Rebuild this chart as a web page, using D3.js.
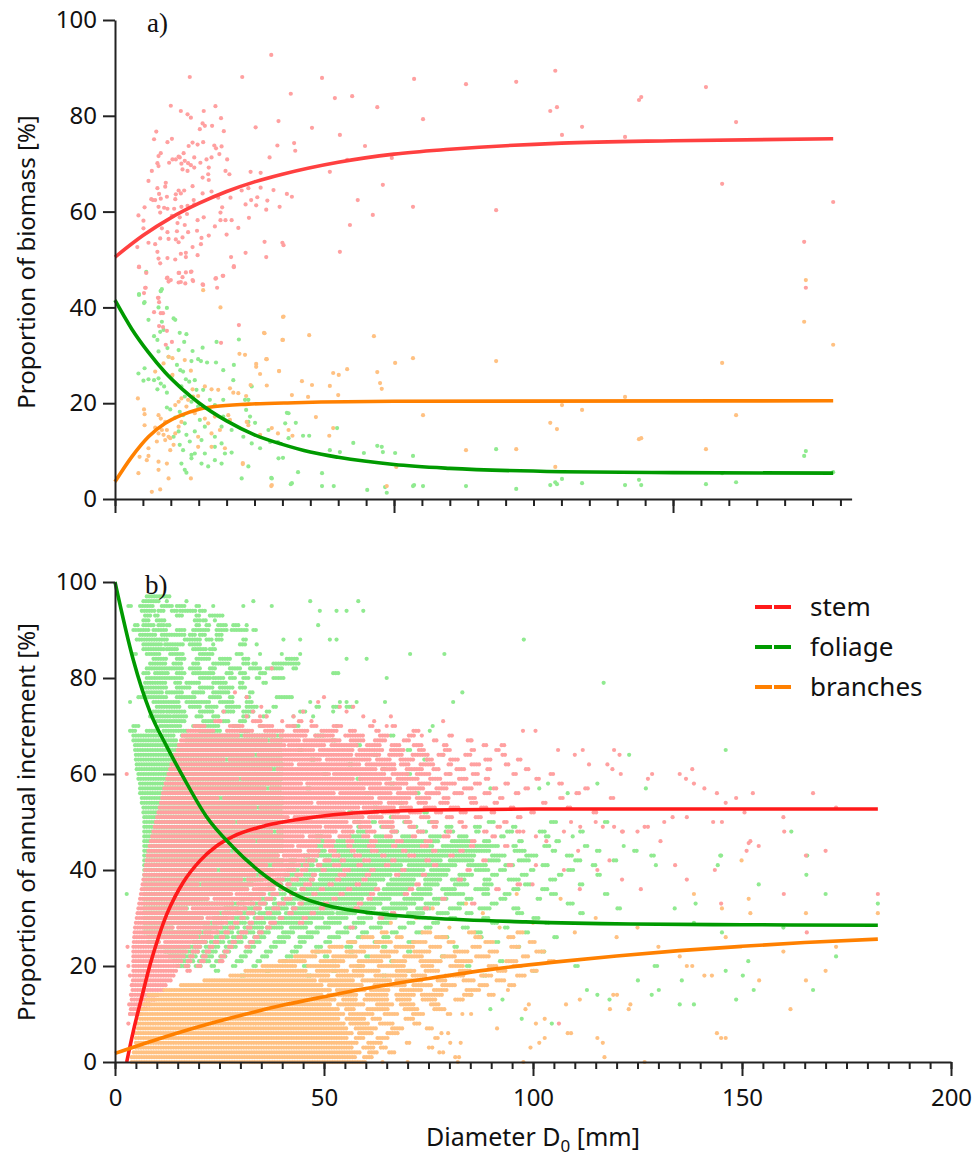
<!DOCTYPE html>
<html>
<head>
<meta charset="utf-8">
<script src="https://cdn.jsdelivr.net/npm/d3@7"></script>
<style>
  body { margin: 0; background: #fff; }
  text { font-family: "Noto Sans", sans-serif; fill: #111; }
  .axis path, .axis line { stroke: #222; stroke-width: 2; }
  .axis text { font-size: 24px; font-family: "Noto Sans", sans-serif; fill: #111; }
</style>
</head>
<body>
<svg id="chart" width="974" height="1163"></svg>
<script>
// ---------- panel a) proportion of biomass: fitted curves [D0 mm, %] ----------
var bioStemCurve = [[0,50.5],[5,55.0],[10,58.7],[15,61.7],[20,64.2],[25,66.2],[30,67.8],[40,70.3],[50,72.0],[60,73.0],[80,74.3],[100,74.8],[128.7,75.2]];
var bioFoliageCurve = [[0,41.5],[3,35.5],[6,30.6],[9,26.4],[12,23.0],[15,20.1],[20,16.3],[25,13.4],[30,11.4],[35,9.8],[40,8.7],[50,7.2],[60,6.4],[80,5.7],[100,5.5],[128.7,5.4]];
var bioBranchCurve = [[0,3.6],[3,8.8],[6,13.0],[9,15.8],[11.9,17.5],[14.9,18.7],[17.9,19.3],[23.9,19.8],[32.3,20.1],[50,20.4],[128.7,20.5]];

// panel a) observations [D0 mm, %]
var bioStemPts = [[10.0,82.1],[11.8,81.0],[13.0,80.3],[13.6,79.6],[15.9,81.0],[18.0,82.0],[19.0,79.5],[15.7,78.4],[16.1,77.9],[17.4,77.9],[15.2,77.2],[19.5,76.8],[7.4,76.7],[7.0,75.1],[9.4,74.5],[10.2,75.2],[25.2,77.6],[29.3,78.9],[29.1,73.8],[32.1,74.3],[32.3,72.7],[13.9,74.4],[14.8,74.0],[15.8,74.5],[17.8,73.8],[18.1,73.2],[19.1,73.6],[18.7,72.0],[13.2,73.7],[12.3,72.2],[11.4,71.5],[10.3,70.9],[9.7,70.2],[8.2,72.2],[7.8,71.6],[7.6,70.1],[7.8,69.5],[6.6,68.5],[10.9,70.9],[11.6,71.3],[11.9,70.0],[12.5,70.6],[13.1,70.1],[13.6,69.7],[14.2,71.3],[15.3,70.2],[16.4,70.9],[17.3,71.3],[20.1,70.9],[12.1,68.8],[13.0,68.5],[14.2,69.2],[16.8,69.2],[19.8,68.5],[20.5,67.8],[24.3,68.3],[26.1,68.1],[27.7,71.3],[16.7,67.8],[16.8,66.6],[15.7,67.1],[6.0,66.4],[9.1,66.0],[7.6,64.9],[7.9,63.7],[9.0,65.2],[9.3,63.1],[8.2,62.7],[6.5,62.6],[7.2,62.4],[10.9,63.6],[11.4,64.4],[11.8,63.8],[12.4,64.4],[13.9,65.3],[10.8,62.6],[14.1,62.4],[15.7,63.8],[17.3,64.2],[18.5,62.9],[20.7,62.9],[22.7,64.4],[23.9,64.9],[26.1,65.0],[28.4,64.5],[30.8,63.7],[31.7,63.1],[24.4,62.4],[25.5,63.0],[27.3,62.3],[23.4,61.5],[25.3,61.3],[27.1,60.4],[29.5,61.0],[7.8,61.0],[8.1,59.8],[8.8,60.8],[9.4,60.6],[10.6,60.6],[11.9,61.0],[13.0,61.2],[14.2,61.5],[5.3,60.9],[4.2,59.2],[5.1,58.1],[6.8,62.4],[10.2,59.1],[11.6,58.8],[12.9,59.5],[14.8,58.2],[15.9,58.8],[19.2,60.9],[18.9,59.8],[18.9,58.2],[19.8,58.2],[20.9,58.2],[24.0,58.7],[5.1,56.5],[6.0,53.5],[4.0,52.6],[7.2,53.2],[8.1,54.4],[8.4,56.5],[9.4,55.7],[9.6,54.3],[11.2,57.6],[11.1,55.9],[12.5,57.2],[10.9,54.2],[11.4,53.6],[12.1,54.6],[13.1,55.7],[14.7,56.0],[13.9,52.6],[15.5,54.5],[15.4,53.2],[16.8,55.0],[17.9,56.9],[20.0,55.2],[22.1,56.6],[26.8,53.7],[30.0,53.5],[30.2,53.0],[7.6,51.6],[7.8,50.2],[8.1,49.2],[9.4,50.3],[10.8,50.0],[11.8,51.2],[12.7,51.4],[12.7,50.5],[14.8,50.9],[20.8,50.5],[23.4,51.4],[27.1,50.5],[21.3,48.6],[4.3,48.5],[11.4,47.2],[12.7,47.3],[13.7,47.5],[12.1,46.3],[9.4,46.2],[9.6,45.4],[10.0,45.7],[11.4,45.2],[12.6,45.0],[13.9,45.7],[15.7,44.8],[18.0,46.0],[19.3,46.6],[5.5,44.1],[5.2,43.0],[7.8,42.0],
  [28.0,92.7],[13.4,88.1],[22.8,88.1],[37.1,87.9],[31.5,84.6],[53.6,87.7],[55.2,79.3],[62.9,86.6],[71.9,87.1],[78.9,89.4],[78.0,81.0],[79.2,81.8],[80.1,76.0],[83.7,77.7],[91.4,75.6],[93.9,83.3],[94.3,83.9],[105.9,86.0],[111.3,78.7],[108.8,65.8],[123.5,53.7],[123.8,44.1],[128.7,62.0],[53.4,61.0],[68.3,60.3],
  [39.4,83.7],[42.5,84.1],[47.0,81.8],[35.3,77.5],[40.3,76.0],[44.8,73.7],[49.6,71.2],[41.6,70.8],[48.0,65.6],[38.5,68.3],[43.5,62.4],[46.2,59.3],[40.3,51.6],[42.1,57.2],
  [7.7,42.0],[7.9,41.1],[7.0,39.0],[8.2,38.8],[8.6,38.8],[7.9,36.1],[8.6,35.9],[9.3,35.1],[10.2,32.8],[9.1,32.2],[19.0,32.6],[22.2,36.3],[4.3,48.4],[5.6,47.2],[5.4,44.1],[9.3,46.1],[11.5,47.2],[11.8,45.3],[13.6,47.4],[14.0,45.5],[15.8,44.7],[18.1,46.1],[19.4,46.6],[18.3,44.1],[21.3,48.4]];

var bioFoliagePts = [[4.3,42.6],[5.3,41.1],[8.2,43.4],[7.8,40.0],[9.3,39.9],[8.4,37.0],[6.0,37.4],[10.5,37.7],[10.8,37.4],[7.0,34.0],[8.1,34.9],[7.6,33.2],[8.7,35.3],[11.6,34.7],[12.8,34.4],[12.4,32.8],[9.4,31.5],[7.8,30.8],[9.6,29.7],[11.4,31.1],[13.9,30.9],[15.7,31.6],[14.9,29.2],[15.4,28.8],[13.7,28.8],[18.2,32.8],[22.2,33.3],[18.1,28.5],[19.4,26.9],[21.3,28.0],[16.5,28.5],[5.3,27.3],[4.2,26.2],[5.1,24.7],[6.0,25.0],[7.0,24.8],[7.8,25.2],[8.2,24.1],[7.6,22.9],[8.8,23.5],[9.3,22.2],[11.7,26.9],[12.2,26.6],[12.7,25.0],[11.1,28.0],[10.2,25.7],[11.9,23.5],[12.5,21.4],[13.3,24.5],[14.3,24.8],[14.6,22.8],[13.7,20.3],[15.8,22.8],[17.0,20.7],[17.9,19.6],[14.9,19.3],[9.3,19.1],[9.9,18.7],[11.6,18.2],[12.2,17.5],[10.8,17.0],[12.5,15.8],[15.2,16.5],[14.3,14.1],[16.1,15.1],[11.4,14.1],[10.5,13.0],[12.8,13.4],[13.4,12.0],[11.6,11.3],[12.2,10.2],[13.7,9.2],[14.3,9.5],[16.1,9.5],[17.9,10.9],[19.1,11.6],[19.7,9.5],[20.9,9.7],[17.9,8.1],[15.5,7.4],[16.7,6.8],[13.7,8.5],[11.9,7.4],[12.5,6.1],[12.8,5.5],[19.1,7.4],[22.7,4.3],[23.9,6.8],[24.5,11.6],[26.0,10.6],[28.1,4.3],[31.7,3.3],[29.3,8.5],[31.1,12.7],[30.5,15.8],[31.1,17.9],[27.5,14.4],[23.9,16.1],[24.2,17.2],[23.0,13.0],[20.9,14.4],[19.1,15.1],[19.4,17.2],[19.4,20.7],[23.9,20.7],[24.5,23.5],[21.2,24.8],[15.5,12.3],[17.9,13.0],
  [23.3,20.7],[23.5,18.6],[25.1,15.9],[30.8,18.0],[32.4,15.9],[33.7,13.2],[34.8,13.2],[39.8,14.8],[27.8,11.9],[29.2,11.9],[30.1,8.6],[32.8,5.6],[31.5,3.1],[37.1,5.4],[37.1,2.7],[39.2,2.7],[38.5,10.2],[40.3,9.8],[42.7,11.7],[44.6,9.6],[45.2,1.9],[47.0,11.1],[47.8,10.9],[48.0,9.8],[50.2,9.6],[48.4,2.5],[48.7,1.3],[53.4,9.0],[53.4,2.7],[55.2,2.7],[28.0,4.4],
  [5.6,47.4],[4.3,42.8],[5.2,40.9],[8.4,43.8],[8.2,43.4],
  [68.3,10.4],[53.6,2.9],[62.9,2.7],[71.9,2.1],[78.0,2.9],[78.9,3.5],[79.2,3.1],[80.1,4.2],[83.7,3.3],[91.4,2.9],[93.9,4.0],[94.3,2.9],[105.9,3.1],[111.3,3.5],[123.5,9.0],[123.8,10.0],[128.7,5.6],[108.8,5.4]];

var bioBranchPts = [[15.8,43.6],[18.9,40.0],[30.2,38.1],[26.8,34.6],[30.0,33.2],[22.3,30.3],[23.3,30.1],[27.1,29.2],[25.3,28.2],[26.0,26.1],[29.4,26.7],[24.3,23.8],[27.2,23.7],[9.6,29.7],[8.7,28.3],[10.3,29.4],[7.2,26.6],[12.5,29.0],[10.3,25.9],[13.6,26.8],[13.9,22.9],[16.1,23.5],[17.3,22.9],[18.5,22.8],[20.6,23.1],[21.2,22.2],[22.1,22.1],[23.5,21.5],[14.9,21.5],[11.9,21.0],[11.4,20.3],[10.8,19.6],[4.1,21.0],[5.2,18.7],[5.3,17.7],[7.8,17.5],[8.2,16.8],[9.0,16.1],[7.2,14.9],[9.3,14.4],[7.8,13.7],[8.7,13.4],[9.6,13.0],[7.5,12.0],[9.9,10.2],[10.5,11.3],[5.3,15.4],[6.0,10.6],[4.4,8.8],[6.0,9.0],[5.7,8.1],[7.8,7.8],[9.3,7.4],[7.8,6.1],[9.6,4.3],[13.6,4.3],[4.2,5.4],[6.6,1.5],[8.1,2.0],[16.1,16.8],[17.9,17.2],[20.3,17.5],[20.6,16.5],[23.9,15.4],[23.6,16.1],[26.0,13.4],[28.1,14.8],[29.2,13.7],[31.1,14.4],[31.8,13.2],[28.1,2.9],[22.9,7.3],[14.9,13.0],[17.3,13.7],[18.8,14.4],[16.7,15.8],[14.3,17.9],[12.8,19.3],[17.3,10.9],[19.7,10.6],[14.9,10.9],[8.4,14.4],[9.0,12.3],[9.9,12.7],[10.8,13.7],[11.4,15.1],[11.9,16.1],[13.1,20.7],[14.0,21.4],
  [30.1,38.0],[26.7,34.7],[30.1,33.2],[34.8,34.2],[25.3,27.6],[27.2,29.2],[29.4,26.7],[33.5,24.6],[35.3,23.8],[38.5,23.6],[39.1,26.3],[40.1,25.9],[41.6,27.1],[46.4,34.0],[50.2,28.4],[53.4,29.4],[31.7,21.7],[34.6,21.3],[40.0,21.7],[47.0,26.5],[47.5,24.2],[47.8,23.0],[36.0,17.1],[38.4,13.2],[39.1,14.8],[28.0,2.7],[48.7,2.7],[55.2,17.5],[50.4,6.7],[22.9,7.5],
  [68.3,28.8],[62.9,10.2],[71.9,10.4],[78.0,15.9],[79.2,14.6],[80.1,19.6],[78.9,6.7],[83.7,18.6],[91.4,21.3],[93.9,12.5],[94.3,12.7],[105.9,10.4],[111.3,17.5],[108.8,28.4],[123.5,37.0],[123.8,45.7],[128.7,32.2]];

// ---------- panel b) proportion of annual increment: fitted curves ----------
var incStemCurve = [[2.8,0],[4.4,6.5],[6.4,13.5],[8.4,20.3],[10.4,26.0],[12.4,30.8],[14.4,34.5],[16.3,37.4],[20.3,41.9],[24.3,45.0],[28.3,47.0],[36.3,49.3],[44.3,50.6],[52.2,51.5],[60,52.0],[75,52.5],[100,52.7],[182.5,52.7]];
var incFoliageCurve = [[0,100],[4.4,83.7],[8.4,72.9],[12.4,65.7],[16.3,59.4],[21.9,51.1],[28.2,44.8],[36.4,38.5],[44.3,34.4],[52.2,32.3],[62,31.0],[75.4,30.0],[98.2,29.2],[123.3,28.75],[150,28.6],[182.5,28.5]];
var incBranchCurve = [[0,1.8],[10,4.7],[20,7.35],[30,9.7],[40,11.8],[50,13.6],[60,15.3],[75,17.4],[90,19.3],[105,20.8],[120,22.1],[135,23.2],[150,24.1],[165,24.9],[182.5,25.6]];

// panel b) observations, dense rows: [%, x0,x1, x0,x1, ...] = mm ranges filled along one row
var incFoliageRuns = [
  [97, 7.6,13.2],[96, 6.8,10.4, 12.4,12.8, 17.1,17.1],
  [95, 3.2,4.0, 6.0,9.2, 11.2,13.6, 14.8,16.7, 19.5,20.3, 23.5,23.9],
  [94, 6.4,9.6, 10.4,12.0, 13.6,14.8, 15.6,19.5, 20.3,21.9],
  [93, 7.2,8.4, 9.6,10.4, 14.8,16.3, 19.5,20.3, 22.7,25.9],
  [92, 6.8,8.0, 10.0,12.0, 19.1,20.3, 21.1,21.9, 23.9,24.3],
  [91, 4.8,5.6, 6.8,9.6, 10.4,11.6, 12.4,13.2, 19.5,20.3, 21.9,22.7, 24.7,26.7, 28.3,29.9, 31.5,31.9],
  [90, 4.4,8.4, 9.2,12.4, 14.8,17.1, 18.7,22.7, 24.3,26.7, 27.9,31.5, 33.1,33.9],
  [89, 6.0,10.0, 11.2,17.1, 17.9,19.5, 20.3,21.9, 24.3,25.9],
  [88, 5.2,12.4, 16.7,20.3, 21.9,23.5, 24.3,25.9, 30.7,31.5],
  [87, 6.8,11.2, 12.0,16.3, 17.9,20.3, 23.5,23.9, 29.9,31.5],
  [86, 6.8,11.6, 12.4,14.8, 18.7,21.9, 22.7,24.3],
  [85, 4.4,5.2, 7.6,10.8, 13.2,16.3, 20.3,23.5, 29.1,30.7],
  [84, 9.2,12.4, 14.8,17.1, 19.5,22.7, 25.1,27.5, 30.7,31.9, 41.1,43.5],
  [83, 8.4,12.4, 14.0,15.9, 18.7,20.3, 23.5,27.5, 30.7,32.3, 33.1,33.9, 37.9,44.3],
  [82, 7.6,16.3, 17.9,20.3, 22.7,24.3, 27.5,29.9, 32.3,34.7, 36.3,40.3, 42.7,43.5],
  [81, 6.8,8.4, 9.6,12.8, 14.8,17.1, 18.7,23.5, 26.7,28.3, 29.9,31.5, 34.7,36.3, 52.2,53.8],
  [80, 7.6,16.3, 20.3,22.7, 23.5,25.9, 27.5,29.1, 30.7,32.3, 33.9,34.7, 37.9,40.3],
  [79, 7.2,12.4, 14.4,15.9, 17.1,20.3, 23.5,26.7, 29.9,30.7, 35.5,36.3],
  [78, 6.8,12.4, 14.8,17.9, 20.3,23.5, 25.1,28.3, 29.9,31.5],
  [77, 7.6,11.6, 12.4,16.3, 18.7,21.1, 23.5,27.5, 32.3,33.1],
  [76, 5.6,12.4, 14.8,19.5, 22.7,25.1, 27.5,28.3, 31.5,32.3, 38.7,42.7],
  [75, 3.6,4.0, 9.2,15.6, 17.1,22.7, 25.1,28.3, 31.5,33.1],
  [74, 10.0,15.6, 17.9,20.3, 21.9,24.3, 26.7,29.9, 31.5,33.9, 37.9,38.7, 48.2,49.0, 52.2,53.8, 55.4,57.0],
  [73, 9.2,11.6, 12.4,17.1, 20.3,23.5, 25.9,28.3, 30.7,33.1, 36.3,37.1, 44.3,45.9],
  [72, 8.4,13.2, 14.0,17.1, 19.5,21.1, 23.5,25.1, 30.7,32.3, 35.5,36.3],
  [71, 10.0,17.1, 21.1,23.5, 25.9,27.5, 29.9,31.5],
  [70, 4.4,6.0, 10.8,15.6, 18.7,25.1, 28.3,29.9, 34.7,35.5, 42.7,44.3],
  [69, 3.6,5.2, 7.6,10.0, 11.6,17.1, 20.3,25.1, 30,32],
  [68, 4.4,14, 16,40, 48,50, 66,67],[67, 4.4,15, 17,40, 52,53],[66, 4.8,40, 58,59],
  [65, 4.8,40, 44,45, 70,71],[64, 5,40, 62,63],[63, 5,40, 47,48, 74,75],[62, 5.2,40, 56,57],
  [61, 5.2,40, 64,65],[60, 5.6,40, 50,51, 70,71],[59, 5.6,40, 58,59],[58, 6,40, 66,67],
  [57, 6,40, 46,47],[56, 6,40, 60,61, 72,73],[55, 6.4,40],[54, 6.4,40, 68,69],[53, 6.8,40, 62,63],
  [52, 6.8,40, 56,57, 74,75],[51, 7,40, 66,67],
  [50, 7,40, 57.3,58.9, 61.6,62.4, 69.2,70.8, 75.1,77.3, 89.4,90.6, 104.3,105.5, 117.2,118],
  [49, 7,40, 58.2,59.1, 63.7,66.2, 70.9,72.4, 79.3,80.8, 86.1,87.4, 95.2,96.3],
  [48, 7,40, 58.1,60.4, 66.3,67.5, 72.6,74.9, 79.1,81.3, 86.4,87.2, 93.8,95.1, 101.6,102.9, 111.3,112.1],
  [47, 7,40, 48.2,49.7, 56.4,58.8, 62.3,64.6, 68.7,70.9, 75.4,78.2, 82.3,84.6, 92.4,93.3, 103.1,104],
  [46, 7,40, 49.3,50.4, 53.1,55.4, 57.5,61.1, 63.1,67.2, 69.1,74.1, 76.1,77.4, 80.6,84.9, 88.3,89.6, 96.7,97.5, 105.6,106.6],
  [45, 7,40, 48.4,50.1, 52.6,55.7, 57,60.6, 62.3,66.4, 67.5,73.3, 74.7,76.3, 78.4,84.9, 86.2,91.7, 95.3,96.2, 102.7,104.4, 112.4,113.2],
  [44, 7,40, 49,50.6, 53.1,56.3, 58,61.2, 63,68.8, 69.8,75.9, 77.3,82.4, 83.5,89.7, 95.6,98.4, 104.7,105.5, 115.3,116.4, 124.2,125],
  [43, 7,39, 45.3,47, 48.7,52.2, 53.6,57.3, 59,63.8, 64.8,70.3, 71.7,79.8, 81.1,86.4, 90.2,93.7, 98.4,101.3, 108.1,109.4, 128.3,129],
  [42, 7,40, 41.9,43.5, 45.7,48.6, 50.4,54.1, 55.2,59.5, 61.1,66.2, 67.2,74.4, 75.5,78.3, 80.1,85.6, 89.4,91.8, 96.6,99.2, 110.1,111.6, 119.3,120],
  [41, 7,40, 40.9,42.8, 44.3,47.4, 48.7,52.3, 53.8,58.1, 59.1,64.7, 66,68.6, 70.3,76.2, 77.2,81.6, 84.5,88.7, 93.4,95.7, 102.3,103.6, 114.3,115],
  [40, 7,38.1, 41.4,44.1, 45.9,49.5, 50.6,54.7, 56.2,61.2, 62.3,68.6, 69.6,74.2, 75.6,79.8, 86.3,89.4, 92.1,93.6, 99.5,100.6, 108.4,109.6],
  [39, 7,37.2, 40.7,43.8, 45.3,48.2, 49.2,53.6, 55,59.9, 61.1,66.1, 68.1,73.5, 74.5,79.6, 82.4,85.7, 90.2,91.6, 97.3,98.5, 106.2,107, 115.4,116.1],
  [38, 7,35.2, 38.9,42.3, 43.7,47.7, 49,53, 54,59.3, 60.6,64.2, 66.1,71.6, 74.2,77.9, 80.6,83.7, 88.4,89.7, 94.2,96.6, 104.1,105.6],
  [37, 7,33.3, 36.8,40.1, 41.4,45.4, 46.9,51.2, 52.2,57.7, 58.7,62.8, 65.3,71.8, 74.2,77.6, 81.3,84.5, 88.3,90.4, 98.1,99.6, 111.2,112],
  [36, 7,31.6, 34.7,38, 39.5,43.5, 44.6,49.1, 50.4,55.6, 56.6,62.3, 64.3,70.4, 72.5,75.6, 78.3,81.7, 86.2,89.5, 95.3,96.7, 102.2,103.6],
  [35, 7,27.8, 32.3,35.5, 37,40.9, 42.4,47.3, 48.3,53.8, 54.8,61.1, 63.2,69.2, 71.3,75.8, 79.1,83.6, 88.1,89.7, 93.2,94.6, 104.3,105.9, 117.2,118],
  [34, 7,22.5, 30.2,33.1, 34.6,38.7, 40.1,45.2, 46.2,52.1, 53.1,59.5, 61.5,65.8, 69.2,73.8, 76.3,79.6, 84.1,85.7, 92.2,93.8, 101.1,102],
  [33, 7,28.2, 28.4,31, 32.5,36.5, 38,43.1, 44.5,50, 51.1,58.2, 59.3,63.7, 66.2,71.6, 74.3,77.8, 82.2,83.6, 90.1,91.7, 108.3,109.8],
  [32, 7,17.3, 26.3,29.4, 30.9,34.8, 36.3,41.5, 42.5,49.1, 50.1,57.4, 58.4,62.1, 64.2,69.6, 72.3,75.7, 80.1,82.7, 87.2,89.6, 95.3,96.6, 120.2,121],
  [31, 7,24.6, 24.8,27.7, 29.2,33.4, 34.5,39.6, 40.9,46.9, 47.9,52.3, 53.2,57.8, 60.3,65.6, 70.1,73.7, 77.2,79.8, 84.1,85.7, 96.2,97.7, 111.3,112],
  [30, 7,20.8, 23.7,26.8, 28.1,31.9, 33.4,38.3, 39.3,45, 46,49.8, 51.2,55.6, 58.3,61.7, 64.1,67.5, 72.3,75.4, 80.2,81.7, 88.1,89.6, 100.1,101.6],
  [29, 7,22.3, 22.5,25.6, 26.9,31.1, 32.1,36, 37.4,44.1, 45.1,47.3, 50.2,53.8, 57.1,59.7, 63.1,65.6, 70.2,71.8, 76.1,77.6, 90.2,91.6, 103.1,104],
  [28, 7,13.8, 21.3,24.5, 25.8,29.7, 31,35.3, 36.3,40.2, 42.1,45.8, 48.2,51.6, 55.1,57.7, 61.2,63.8, 68.1,69.6, 74.3,75.7, 83.2,84.6, 93.3,94],
  [27, 7,20.2, 20.4,23.3, 24.4,28.1, 29.5,33.4, 34.4,37.1, 40.2,42.8, 46.1,48.8, 53.2,55.7, 59.1,60.7, 66.2,67.6, 72.1,73.6, 86.3,87.7, 98.2,99],
  [26, 8,19.5, 19.7,22.7, 24,27.2, 28.2,31.4, 33.3,35.8, 39.2,41.6, 44.1,47.6, 51.2,53.8, 58.1,59.6, 64.2,65.6, 78.3,79.6, 87.1,88, 105.1,106],
  [25, 8,10.7, 18.8,21.8, 22.9,26, 27.3,30.3, 32.2,34.7, 38.1,40.8, 44.2,45.9, 50.3,51.8, 56.2,57.7, 62.1,63.6, 70.2,71.6, 91.1,92],
  [24, 10,17.8, 18,20.6, 21.7,25.2, 26.5,29.3, 32.1,33.8, 37.3,38.7, 43.2,44.8, 48.1,49.6, 55.3,56.7, 64.1,65, 81.2,82, 96.1,97],
  [23, 12,17.3, 17.5,20, 21.1,24.2, 26.1,27.8, 31.2,32.7, 36.1,37.6, 42.3,43.7, 48.1,49, 56.2,57, 70.1,71, 102.1,103],
  [22, 13,16.7, 16.9,19.5, 20.8,23.4, 25.2,26.8, 30.1,31.6, 35.2,36.7, 41.1,42.6, 50.2,51, 60.1,61, 78.2,79],
  [21, 14,16.1, 16.3,19.1, 20.1,23, 24.2,25.7, 29.1,30.6, 34.1,35, 40.2,41, 52.1,53, 66.1,67, 92.1,93],
  [20, 15,15.6, 15.8,18, 19.3,20.5, 23.1,24, 28.2,29, 33.1,34, 45.2,46, 58.1,59, 84.2,85, 110.1,111],
  [19, 24.1,25, 36.2,37, 52.1,53, 70.1,71, 100.1,101],[18, 30.2,31, 46.1,47, 64.1,65, 88.1,89]
];

var incStemRuns = [
  [71, 24,25.5, 33,35, 44,45],
  [70, 19,21.5, 27.5,31, 34.6,38, 41.2,43.5, 47,48.5, 52.3,54.6, 61,62, 66.4,67],
  [69, 17.5,24, 26.8,33.2, 35.9,40.3, 43,46.1, 49.4,53, 56.2,57.8, 62.5,63.6, 72,73],
  [68, 16.2,29.6, 31,38.4, 39.6,46, 47.9,52.3, 55.1,59.5, 63.4,65.7, 70.3,71.9, 80,81],
  [67, 15.8,36.2, 37.4,44.1, 45.3,54, 56.4,59.6, 62.2,64.8, 69.1,70.6, 76.3,77.2, 84.4,85],
  [66, 15.3,40.5, 41.6,50.2, 51.8,58, 60.3,63.5, 66.2,68, 71.5,73.6, 78.7,79.5, 88.2,89, 92.5,93],
  [65, 15,47.8, 49,57.1, 58.5,64.2, 66,69.4, 72.7,74.3, 78.9,80.6, 85.3,86, 91.2,92.3],
  [64, 14.4,33.1, 34.3,56.5, 57.8,63.2, 65.6,68.9, 71.2,74.8, 77.4,78.6, 83.8,85.2, 92.7,93.5],
  [63, 14,26.2, 27.4,49.5, 50.7,61.1, 62.7,66.2, 68.3,71.7, 74.6,76.1, 80.2,82.3, 88.6,89.8, 96.4,97.3],
  [62, 13.5,42.8, 44,58.7, 60.2,66.9, 68.4,70.2, 73.1,76.6, 79.8,80.9, 85.3,87.2, 93.5,94.5],
  [61, 13.2,37.6, 38.9,62.3, 63.9,67.3, 69.8,73.5, 76.2,77.4, 81.7,83.9, 89.1,90, 98.3,99.3],
  [60, 12.8,51.2, 52.4,64.9, 66.4,70.5, 72.2,75.3, 79.1,80.8, 85.6,87, 95.3,96.1, 104.2,105],
  [59, 12.5,29.3, 30.5,57.4, 58.6,66.1, 67.6,72.8, 75.4,77.9, 82.3,84.1, 88.7,89.6, 100.8,101.7],
  [58, 12.1,44.7, 46,63.5, 64.9,70.2, 72.8,75.6, 78.3,81.4, 86.1,87.3, 93.4,94.2, 106.3,107],
  [57, 11.8,36.1, 37.3,59.8, 61,68.6, 70.1,74.2, 76.9,79.4, 83.5,85.8, 90.6,91.5, 98.2,99, 112.5,113.3],
  [56, 11.5,52.6, 53.9,66.3, 67.7,72.3, 74.5,77.8, 81.2,83.1, 88.4,89.7, 95.9,96.6, 110.4,111.2],
  [55, 11.3,24.9, 26.1,61.8, 63.2,70.7, 72.2,75.4, 78.6,80.3, 84.9,86.4, 92.1,93.2, 106.5,107.3, 118.6,119.4],
  [54, 11,47.3, 48.6,64.1, 65.5,69.8, 72.6,74.7, 77.8,80.1, 85.2,86.5, 90.8,91.6, 102.4,103.2],
  [53, 10.7,33.6, 34.8,58.2, 59.5,66.8, 68.4,71.3, 74.1,76.9, 80.3,82.2, 87.6,88.8, 94.7,95.5, 108.3,109],
  [52, 10.4,55.3, 56.7,62.9, 64.1,68.2, 70.6,73.4, 76.8,78.5, 82.7,84.3, 90.1,90.9, 99.6,100.4, 114.5,115.2],
  [51, 10.1,41.8, 43,59.6, 60.8,64.3, 66.5,70.1, 73.2,75, 79.4,80.8, 86.3,87.5, 96.4,97.2],
  [50, 9.8,28.4, 29.6,55.9, 57.2,61.3, 63.4,66.6, 69.5,71.2, 75.8,77.5, 82.4,83.5, 93.1,94],
  [49, 9.5,49.2, 50.4,56.7, 58.6,61.2, 64.1,66.8, 70.4,71.9, 76.2,77.1, 83.3,84.2, 91.5,92.3],
  [48, 9.2,37.8, 39,53.1, 54.5,57.2, 60.3,62.6, 66.1,67.4, 72.5,73.9, 79.6,80.4, 88.3,89.1, 96.2,97],
  [47, 8.9,45.4, 46.6,51.8, 53.7,56.3, 59.4,61.1, 64.8,66.3, 71.2,72.1, 78.6,79.8, 90.3,91],
  [46, 8.6,33.2, 34.4,49.1, 50.5,52.8, 55.6,57.3, 61.2,62.9, 67.4,68.6, 74.3,75.5, 85.4,86.2],
  [45, 8.3,42.6, 43.8,48.3, 50.2,52.4, 55.8,56.9, 60.7,62.1, 66.5,67.3, 73.4,74.6, 85.1,85.8, 93.3,94],
  [44, 8,27.5, 28.7,44.8, 46.3,48.9, 51.4,52.8, 56.6,57.7, 61.4,62.8, 68.9,69.7, 76.1,77.2, 82.6,83.4],
  [43, 7.8,39.2, 40.4,46.5, 47.2,48.6, 52.3,53.5, 57.4,58.8, 63.9,64.7, 70.4,71.6, 80.2,81],
  [42, 7.6,31.4, 32.6,45.2, 46.3,47.6, 50.1,51.3, 54.2,55.1, 59.6,60.9, 66.3,67.1, 74.5,75.4, 88.1,88.9],
  [41, 7.4,36.7, 38,44.1, 45.4,46.2, 48.5,49.6, 52.4,53.7, 58.2,59, 64.8,65.9, 76.3,77.1, 94.2,95],
  [40, 7.2,24.3, 25.5,43.1, 44.6,45.8, 49.6,50.5, 54.8,56.1, 61.3,62.2, 68.7,69.5, 84.3,85.1],
  [39, 7,33.5, 34.8,41.9, 43.4,44.6, 47.3,48.1, 53.7,54.9, 60.2,61, 67.2,68, 73.6,74.4],
  [38, 6.8,30.6, 31.8,40.7, 42.4,43.6, 46.8,47.9, 53.1,53.9, 59.4,60.5, 82.2,83],
  [37, 6.6,19.8, 21,39.6, 41.2,42.3, 45.5,46.8, 51.3,52.1, 57.8,58.6, 72.1,72.9, 96.3,97.1],
  [36, 6.4,31.7, 33.2,38.4, 40.1,41.4, 44.6,45.5, 49.2,50.3, 55.7,56.5, 62.4,63.2, 70.5,71.3, 91.2,92],
  [35, 6.2,27.9, 29.1,36.2, 37.6,38.8, 42.1,43.3, 47.4,48.2, 53.9,54.7, 61.2,62, 69.3,70.1],
  [34, 6,22.6, 23.8,34.8, 36.2,37.5, 40.8,42, 45.3,46.1, 52.2,53, 60.6,61.4, 78.3,79.1],
  [33, 5.8,28.3, 29.5,33.2, 34.6,35.9, 39.2,40.4, 44.1,45.2, 50.1,50.9, 58.3,59.1, 85.4,86.2],
  [32, 5.6,17.4, 18.6,31.7, 33.5,34.8, 37.9,39.2, 42.6,43.4, 49.2,50, 57.5,58.3, 74.1,74.9],
  [31, 5.4,24.7, 25.9,30.3, 31.8,33.1, 36.5,37.4, 41.7,42.8, 47,47.8, 66.2,67],
  [30, 5.2,20.9, 22.1,28.6, 30.2,31.3, 34,35.3, 39.4,40.2, 45.1,45.9, 63.3,64.1],
  [29, 5,22.4, 23.6,27.1, 28.7,29.8, 32.2,33, 37.1,38.3, 44.2,45],
  [28, 4.8,13.9, 15.1,25.8, 27.6,28.7, 31.8,32.9, 36.4,37.2, 56.3,57.1],
  [27, 4.7,20.3, 21.5,24.6, 26.4,27.4, 30.2,31.4, 34.5,35.3],
  [26, 4.6,19.6, 20.8,23.5, 25.3,26.1, 29.5,30.3, 33.5,34.3],
  [25, 4.5,10.8, 12,21.7, 23.9,24.8, 28.1,29.2, 32.4,33.2],
  [24, 4.4,17.9, 19.1,20.6, 22.7,23.6, 27.3,28.4, 31.4,32.2],
  [23, 4.4,17.4, 18.6,19.8, 21.9,22.6, 26.3,27.1],
  [22, 4.4,16.8, 18,19, 21.1,21.9, 25.5,26.3],
  [21, 4.4,16.2, 17.4,18.5, 20.6,21.4, 25.1,25.9],
  [20, 4.4,15.7, 16.9,17.6, 19.8,20.6],
  [19, 4.4,15.1, 17.3,18.1],[18, 4.4,14.3],[17, 4.3,13.5],[16, 4.3,12.6],[15, 4.2,11.5],
  [14, 4.2,10.4],[13, 4,9.5],[12, 4,8.6],[11, 3.8,7.4],[10, 3.6,6.2]
];

var incBranchRuns = [
  [0, 4,59.8],[1, 4,57.8, 59.6,61.7],[2, 4.5,58.6, 60.8,62.7, 65.6,66.8],[3, 5,56.7, 59.4,61.8, 63.6,64.9],
  [4, 5,57.8, 60.6,63.7, 69.8,70.9],[5, 5,55.7, 57.6,59.8, 62.8,65.6, 76.6,77.4],[6, 5,56.6, 58.4,61.8, 65.2,67.6],
  [7, 5.5,55.8, 57.6,62.5, 66.3,68.7, 74.6,75.8],[8, 5.5,54.8, 56.3,60.7, 63.4,66.6, 71.6,72.9],
  [9, 6,53.6, 55.4,59.7, 61.6,63.8, 69.5,71.8],[10, 6,54.7, 56.2,61.6, 64.5,67.8, 71.3,73.8, 79.6,80.4],
  [11, 6.5,53.8, 55.3,57.6, 60.4,65.7, 69.3,72.8, 76.4,78.8],[12, 7,51.6, 53.4,59.8, 62.7,66.5, 68.4,71.7, 75.6,77.9],
  [13, 7.5,52.8, 54.6,57.9, 59.7,65.4, 67.5,70.6, 73.6,76.8, 81.4,83.7],
  [14, 8,49.6, 51.1,57.8, 60.2,65.4, 67.3,71.6, 73.4,78.7, 83.5,85.8, 89.4,90.6],
  [15, 11.8,51.7, 53.1,59.8, 61.2,65.6, 68.4,73.7, 76.3,79.8, 84.1,87.6],
  [16, 15.8,49.6, 51.2,59.4, 62.1,69.7, 71.4,75.6, 78.3,81.6, 87.2,89.5, 94.3,95.8],
  [17, 21.4,47.8, 49.1,57.3, 59.2,65.8, 67.3,73.6, 77.2,79.5, 83.4,85.8, 91.3,93.6],
  [18, 27.6,51.4, 53.2,59.6, 62.3,69.5, 71.2,74.4, 79.1,83.5, 87.6,90.3, 96.2,98.1],
  [19, 31.2,45.7, 48.3,55.6, 57.1,63.2, 67.4,71.6, 74.3,77.5, 82.5,85.4, 91.6,93.4, 99.7,101.3],
  [20, 35.3,43.6, 46.2,53.8, 56.4,59.7, 63.1,69.3, 73.5,76.4, 80.2,83.6, 89.4,91.7, 95.3,97.2],
  [21, 39.4,45.8, 49.2,54.6, 58.3,63.9, 66.4,69.8, 73.1,78.4, 81.6,85.2, 93.6,96.5, 103.8,105.4],
  [22, 43.1,47.9, 52.2,57.8, 61.4,65.7, 69.2,73.6, 78.3,81.5, 86.4,89.7, 97.6,99.3],
  [23, 47.2,51.8, 55.4,60.1, 63.8,67.9, 71.6,75.2, 81.3,84.4, 89.6,91.8, 100.8,102.6],
  [24, 51.3,54.6, 58.8,63.2, 67.1,71.8, 75.4,78.3, 85.5,87.6, 94.8,96.7],
  [25, 55.7,57.9, 62.4,66.1, 71.3,74.6, 79.8,81.3, 88.6,90.9, 99.2,100.5],
  [26, 59.2,61.8, 67.4,69.1, 76.8,79.3, 86.2,87.4, 94.1,95.6],
  [27, 63.8,65.4, 73.6,75.9, 84.7,86.1, 96.3,97.8]
];

// ... and scattered single observations [D0 mm, %]
var incFoliagePts = [[33.1,96],[46.7,96],[58.2,96],[30.7,95],[37.5,95],[49,94],[53,94],[55.4,94],[59.4,94],[48.6,91],[40.3,88],[44.3,88],[51.4,88],[53,88],[33.9,87],[34.7,85],[39.9,85],[44.3,85],[70.6,85],[55.4,84],[60.2,84],[65,80],[46.7,75],[53.8,75],[55.4,75],[57.8,75],[64.6,75],[52.2,73],[42.7,72],[47.4,72],[53,70],
  [97.8,88],[78.8,85],[83.1,77],[80.9,75],[116.9,79],[76,70],[75.3,69],[78.5,64],[80.1,60],[89.8,57],[101.5,57],[103.6,58],[115.4,58],[127,57],[123,64],[146.1,65],[108.3,56],[121.7,45],[161.8,48],[145,43],[109.5,47],
  [129.4,41],[144.8,43],[144.2,41],[154,37],[165.4,39],[165.6,43],[170,35],[182.5,33],[172.5,22],[167,15],[151.5,21],[150.2,18],[133.9,32],[138.9,33],[138.5,29],[159.9,28],[145.2,27],[129.7,20],[129.1,20],[85.2,14],[89.8,11],[92.7,13],[97.3,9],[104.5,8],[135.6,17],[135.1,12],[138.5,12],[146.1,19],[148.6,13],[152.8,15],[128.4,14],[130.1,15],[125.1,17],[118.3,13],[115.4,14],[112.9,15],[2.8,35]];

var incStemPts = [[37.5,82],[28.7,77],[31.5,76],[48.6,75],[53.8,74],[57,74],[55.4,73],[59.4,72],[31.5,72],[34.7,72],[36.3,72],[42.7,72],[47,71],[25,71],[33,73],[40,71],[45,73],[62,71],[65,70],[71.4,69],[73.4,68],[78.5,71],[85.3,67],[93.1,66],[97.6,69],[100.6,69],[66,72],[50,76],[35,74],[26,73],
  [106,65],[110,64],[111.9,65],[119.4,65],[120.7,64],[113.4,62],[117.8,62],[119,61],[121,60],[128.5,60],[127.5,59],[135.1,60],[138.1,61],[136.6,59],[138.5,58],[141,57],[144,56],[148.6,55],[152.6,56],[167,56],[172.5,53],[146.1,54],[150.6,52],[159.9,51],[160.1,48],[151.6,45.6],[154,45],[165.3,43],[170,44],[145.2,50],[143.1,50],[136.8,51],[133.4,51],[131.4,50],[127.5,49],[125,48],[121.3,48],[119.4,49],[116.7,49],[115,50],[111.3,49],[109.1,50],[107.4,48],[103.2,46],[100.7,47],[97.7,48],
  [126.7,49],[130.5,46],[152,46],[151.1,44],[143.5,40],[182.5,35],[136.8,38],[110.8,44],[121.5,48],[118.3,42],[107.4,40],[121.3,38],[111.2,36],[115.4,40],[100.7,41],[99.9,37],[106.2,8],[134,41],[125.8,36],[145,33],[160,35],[165.5,27],
  [3.4,12],[3.6,10],[3.2,8],[3.8,14],[4,16],[3.6,18],[3.2,20],[3,24],[2.8,60]];

var incBranchPts = [[96.1,35],[106.6,34],[138.5,35],[151.6,34],[182.5,31],[165.3,31],[152,31],[145.2,32],[149.9,42],[146.1,26],[172.5,24],[159.9,23],[170,19],[165.3,17],[154.1,17],[141,18],[142.8,18],[161.6,11],[144,6],[145,5],[146.1,5],[126.7,0],[97.7,0],[117.1,1],[99.4,3],[101.5,4],[102.8,5],[115.4,5],[116.7,4],[108.3,6],[109.1,6],[91.4,7],[100.7,8],[102.8,9],[122.9,11],[123.3,12],[118.4,11],[119.2,14],[120.1,14],[83.1,10],[81.4,1],[82.3,1],[75.1,3],[75.9,3],[77.6,2],[78.5,2],[78.1,6],[79.7,6],[80.2,4],[82.7,4],[85.2,10],[98.2,11],[99,12],[94,15],[107.9,12],[111.2,13],[138.1,20],[136.8,20],[135.1,22],
  [66,29],[72,30],[80,28],[88,31],[92,28],[100,29],[110,27],[115,30],[120,26],[125,28],[130,24],[84,33],[76,32],[64,0],[70,0],[82,0]];

var yTicks = [0, 20, 40, 60, 80, 100];
var legendLabels = ["stem", "foliage", "branches"];

function drawChart() {
    var svg = d3.select("#chart");

    var lineColors = { stem: "#ff1a1a", foliage: "#009a00", branches: "#ff8000" };
    var dotColors = { stem: "#ffa0a0", foliage: "#90ea90", branches: "#ffc182" };

    var xTop = d3.scaleLinear().domain([0, 132]).range([115, 851.6]),
        yTop = d3.scaleLinear().domain([0, 100]).range([499, 20]),
        xBot = d3.scaleLinear().domain([0, 200]).range([115, 951]),
        yBot = d3.scaleLinear().domain([0, 100]).range([1062, 582]);

    // turn row ranges into single observations (x recorded to 0.6 mm)
    function expandRuns(runs) {
        var out = [];
        runs.forEach(r => {
            for (var i = 1; i < r.length; i += 2) {
                for (var x = r[i]; x <= r[i + 1] + 1e-6; x += 0.6) out.push([x, r[0]]);
            }
        });
        return out;
    }

    function drawDots(g, pts, x, y, color) {
        g.append("g").selectAll("circle")
            .data(pts)
            .enter().append("circle")
            .attr("cx", d => x(d[0]))
            .attr("cy", d => y(d[1]))
            .attr("r", 2.1)
            .attr("fill", color);
    }

    function drawCurve(g, pts, x, y, color) {
        var line = d3.line().x(d => x(d[0])).y(d => y(d[1])).curve(d3.curveMonotoneX);
        g.append("path").datum(pts)
            .attr("d", line)
            .attr("fill", "none")
            .attr("stroke", color)
            .attr("stroke-width", 3.6);
    }

    function drawAxes(x, y, xMax, xLabels) {
        var bottom = y(0);
        // minor x ticks every 5 mm
        svg.append("g").attr("class", "axis")
            .attr("transform", "translate(0," + bottom + ")")
            .call(d3.axisBottom(x).tickValues(d3.range(0, xMax + 0.1, 5)).tickSize(7).tickSizeOuter(0).tickFormat(""));
        var major = svg.append("g").attr("class", "axis")
            .attr("transform", "translate(0," + bottom + ")")
            .call(d3.axisBottom(x).tickValues(d3.range(0, xMax + 0.1, 50)).tickSize(14).tickSizeOuter(0).tickPadding(13)
                .tickFormat(xLabels ? d3.format("d") : ""));
        major.select(".domain").remove();
        svg.append("g").attr("class", "axis")
            .attr("transform", "translate(115,0)")
            .call(d3.axisLeft(y).tickValues(yTicks).tickSize(12).tickSizeOuter(0).tickPadding(6));
    }

    // ---- panel a)
    var top = svg.append("g");
    drawDots(top, bioFoliagePts, xTop, yTop, dotColors.foliage);
    drawDots(top, bioStemPts, xTop, yTop, dotColors.stem);
    drawDots(top, bioBranchPts, xTop, yTop, dotColors.branches);
    drawCurve(top, bioStemCurve, xTop, yTop, "#ff4040");
    drawCurve(top, bioBranchCurve, xTop, yTop, lineColors.branches);
    drawCurve(top, bioFoliageCurve, xTop, yTop, lineColors.foliage);
    drawAxes(xTop, yTop, 130, false);

    // ---- panel b)
    var bot = svg.append("g");
    drawDots(bot, expandRuns(incFoliageRuns).concat(incFoliagePts), xBot, yBot, dotColors.foliage);
    drawDots(bot, expandRuns(incStemRuns).concat(incStemPts), xBot, yBot, dotColors.stem);
    drawDots(bot, expandRuns(incBranchRuns).concat(incBranchPts), xBot, yBot, dotColors.branches);
    drawCurve(bot, incStemCurve, xBot, yBot, lineColors.stem);
    drawCurve(bot, incFoliageCurve, xBot, yBot, lineColors.foliage);
    drawCurve(bot, incBranchCurve, xBot, yBot, lineColors.branches);
    drawAxes(xBot, yBot, 200, true);

    // panel letters
    svg.append("text").attr("x", 147).attr("y", 32).text("a)")
        .style("font-family", "'Liberation Serif', serif").style("font-size", "27px");
    svg.append("text").attr("x", 145).attr("y", 594).text("b)")
        .style("font-family", "'Liberation Serif', serif").style("font-size", "27px");

    // axis titles
    svg.append("text")
        .attr("transform", "translate(25,262) rotate(-90)")
        .attr("text-anchor", "middle").attr("dominant-baseline", "central")
        .style("font-size", "24px")
        .text("Proportion of biomass [%]");
    svg.append("text")
        .attr("transform", "translate(25,822) rotate(-90)")
        .attr("text-anchor", "middle").attr("dominant-baseline", "central")
        .style("font-size", "24px")
        .text("Proportion of annual increment [%]");
    var xt = svg.append("text").attr("x", 533).attr("y", 1146)
        .attr("text-anchor", "middle").style("font-size", "25px");
    xt.append("tspan").text("Diameter D");
    xt.append("tspan").attr("dy", 6).style("font-size", "17px").text("0");
    xt.append("tspan").attr("dy", -6).text(" [mm]");

    // legend
    var legendColors = [lineColors.stem, lineColors.foliage, lineColors.branches];
    var legend = svg.append("g").selectAll("g")
        .data(legendLabels)
        .enter().append("g")
        .attr("transform", (d, i) => "translate(755," + (607 + i * 40) + ")");
    legend.append("line").attr("x1", 0).attr("x2", 17)
        .attr("stroke", (d, i) => legendColors[i]).attr("stroke-width", 4);
    legend.append("line").attr("x1", 19).attr("x2", 36)
        .attr("stroke", (d, i) => legendColors[i]).attr("stroke-width", 4);
    legend.append("text").attr("x", 55).attr("dy", "0.35em")
        .style("font-size", "26px")
        .text(d => d);
}

drawChart();
</script>
</body>
</html>
